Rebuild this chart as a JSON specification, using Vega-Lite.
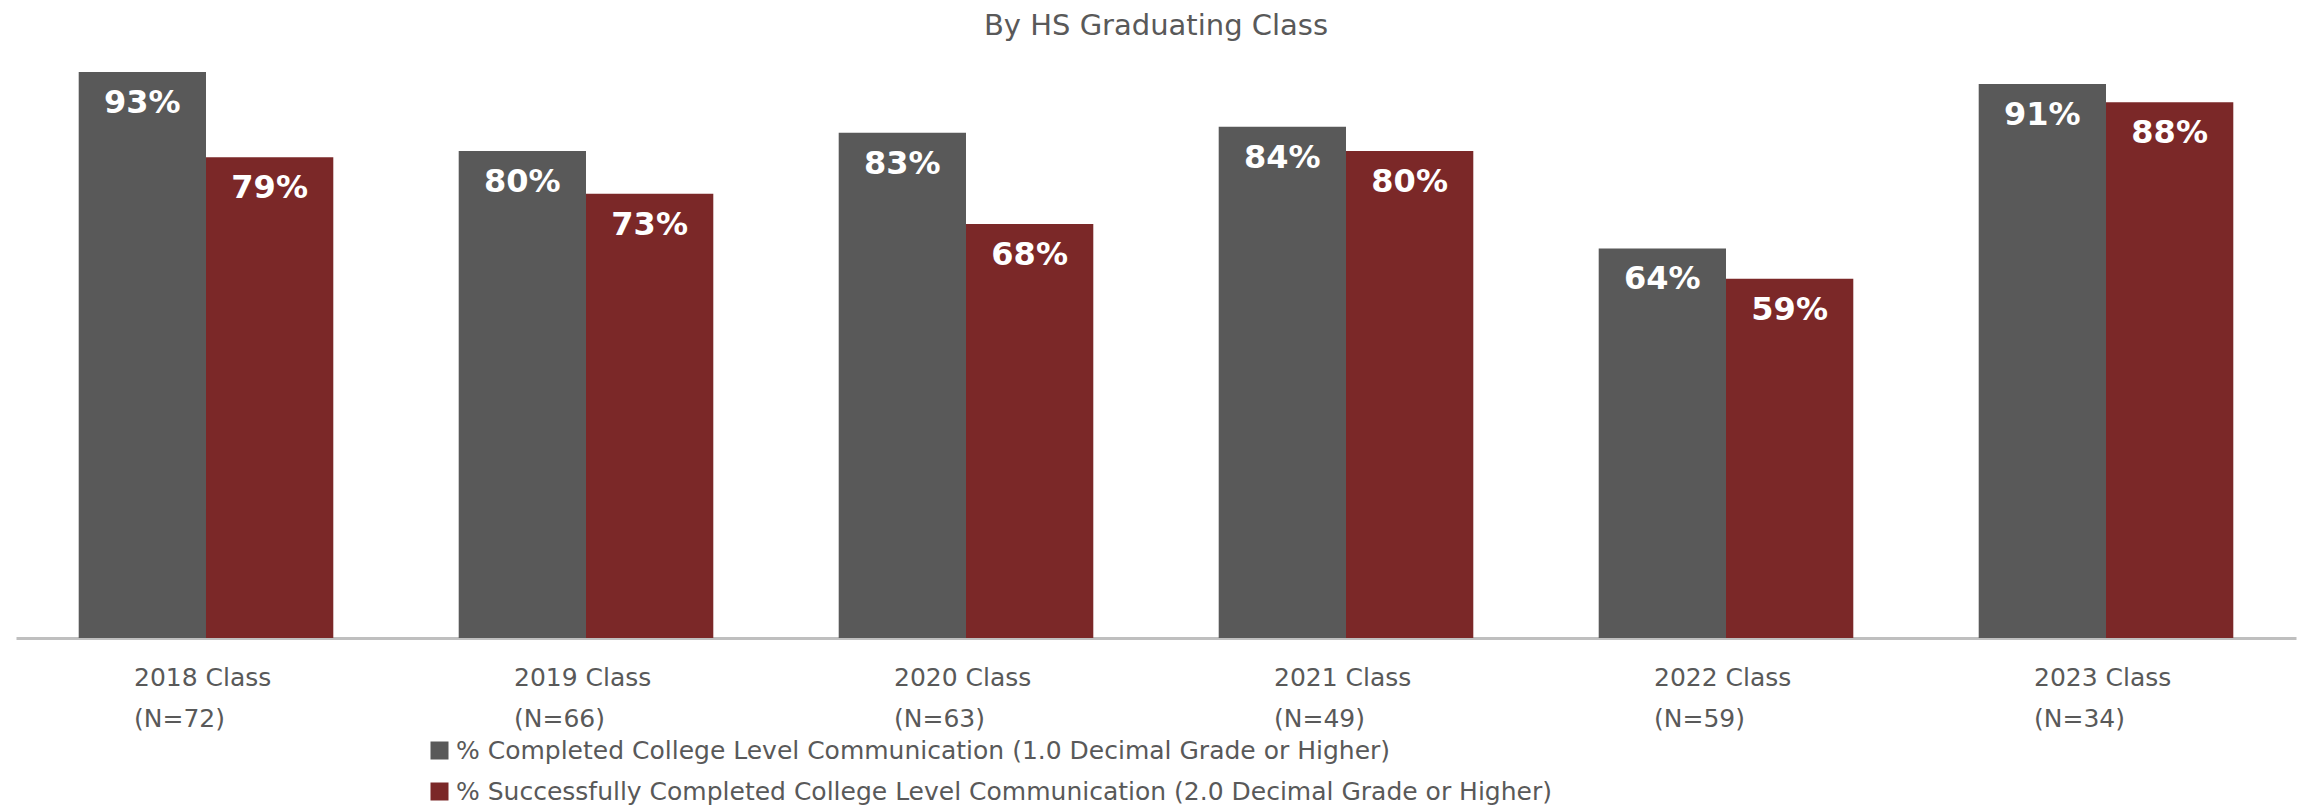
{
  "$schema": "https://vega.github.io/schema/vega-lite/v6.json",
  "autosize": {"type": "none"},
  "width": 2280,
  "height": 588,
  "padding": {"left": 16, "top": 50, "right": 9, "bottom": 169},
  "background": "white",
  "title": {"text": "By HS Graduating Class", "font": "DejaVu Sans", "fontSize": 29, "fontWeight": "normal", "color": "#595959", "baseline": "alphabetic", "offset": 15, "dy": 29, "anchor": "middle"},
  "config": {"view": {"stroke": null}},
  "data": {"values": [
    {"cls": "2018 Class|(N=72)", "series": "% Completed College Level Communication (1.0 Decimal Grade or Higher)", "value": 0.93},
    {"cls": "2018 Class|(N=72)", "series": "% Successfully Completed College Level Communication (2.0 Decimal Grade or Higher)", "value": 0.79},
    {"cls": "2019 Class|(N=66)", "series": "% Completed College Level Communication (1.0 Decimal Grade or Higher)", "value": 0.80},
    {"cls": "2019 Class|(N=66)", "series": "% Successfully Completed College Level Communication (2.0 Decimal Grade or Higher)", "value": 0.73},
    {"cls": "2020 Class|(N=63)", "series": "% Completed College Level Communication (1.0 Decimal Grade or Higher)", "value": 0.83},
    {"cls": "2020 Class|(N=63)", "series": "% Successfully Completed College Level Communication (2.0 Decimal Grade or Higher)", "value": 0.68},
    {"cls": "2021 Class|(N=49)", "series": "% Completed College Level Communication (1.0 Decimal Grade or Higher)", "value": 0.84},
    {"cls": "2021 Class|(N=49)", "series": "% Successfully Completed College Level Communication (2.0 Decimal Grade or Higher)", "value": 0.80},
    {"cls": "2022 Class|(N=59)", "series": "% Completed College Level Communication (1.0 Decimal Grade or Higher)", "value": 0.64},
    {"cls": "2022 Class|(N=59)", "series": "% Successfully Completed College Level Communication (2.0 Decimal Grade or Higher)", "value": 0.59},
    {"cls": "2023 Class|(N=34)", "series": "% Completed College Level Communication (1.0 Decimal Grade or Higher)", "value": 0.91},
    {"cls": "2023 Class|(N=34)", "series": "% Successfully Completed College Level Communication (2.0 Decimal Grade or Higher)", "value": 0.88}
  ]},
  "encoding": {
    "x": {"field": "cls", "type": "nominal", "sort": null,
      "scale": {"paddingInner": 0.33, "paddingOuter": 0.165},
      "axis": {"title": null, "labelAngle": 0, "labelExpr": "split(datum.label, '|')", "labelFont": "DejaVu Sans", "labelFontSize": 25, "labelColor": "#595959", "labelLineHeight": 41, "labelAlign": "left", "labelOffset": -72, "labelBaseline": "top", "labelPadding": 27, "ticks": false, "domainColor": "#bfbfbf", "domainWidth": 3}},
    "xOffset": {"field": "series", "type": "nominal", "scale": {"paddingInner": 0, "paddingOuter": 0}},
    "y": {"field": "value", "type": "quantitative", "scale": {"domain": [0, 0.966], "nice": false}, "axis": null}
  },
  "layer": [
    {"mark": {"type": "bar"},
     "encoding": {"color": {"field": "series", "type": "nominal",
       "scale": {"range": ["#595959", "#7b2828"]},
       "legend": {"title": null, "orient": "none", "legendX": 411, "legendY": 688, "direction": "vertical", "symbolType": "square", "symbolSize": 324, "symbolStrokeWidth": 0, "labelFont": "DejaVu Sans", "labelFontSize": 25, "labelColor": "#595959", "labelLimit": 0, "labelOffset": 4, "rowPadding": 15}}}},
    {"mark": {"type": "text", "baseline": "top", "dy": 16, "font": "DejaVu Sans", "fontWeight": "bold", "fontSize": 32, "color": "white"},
     "encoding": {"text": {"field": "value", "type": "quantitative", "format": ".0%"}}}
  ]
}
